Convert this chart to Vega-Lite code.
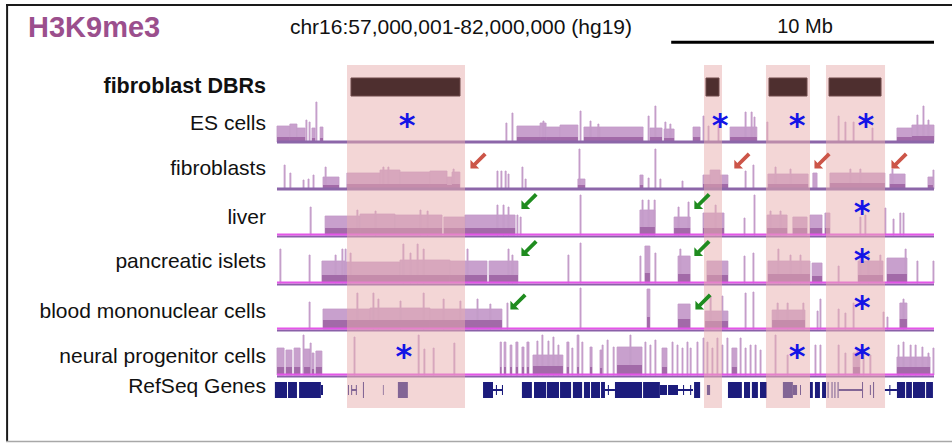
{
"$schema":"https://vega.github.io/schema/vega-lite/v6.json",
"padding":0,"spacing":0,"bounds":"flush","background":"white",
"data":{"values":[{}]},
"config":{"view":{"stroke":null}},
"datasets":{
"dbr":[{"s":59.664,"e":64.154},{"s":73.248,"e":73.933},{"s":75.607,"e":77.282},{"s":77.89,"e":80.136}],
"bars":[{"s":59.816,"e":63.964},{"s":73.324,"e":73.819},{"s":75.721,"e":77.168},{"s":78.005,"e":79.984}],
"ann":[{"t":"es","k":"star","x":61.95},{"t":"es","k":"star","x":73.86},{"t":"es","k":"star","x":76.79},{"t":"es","k":"star","x":79.41},
{"t":"fb","k":"red","x":64.65},{"t":"fb","k":"red","x":74.69},{"t":"fb","k":"red","x":77.74},{"t":"fb","k":"red","x":80.67},
{"t":"lv","k":"green","x":66.59},{"t":"lv","k":"green","x":73.17},{"t":"lv","k":"star","x":79.26},
{"t":"pi","k":"green","x":66.59},{"t":"pi","k":"green","x":73.17},{"t":"pi","k":"star","x":79.26},
{"t":"bm","k":"green","x":66.17},{"t":"bm","k":"green","x":73.21},{"t":"bm","k":"star","x":79.26},
{"t":"np","k":"star","x":61.83},{"t":"np","k":"star","x":76.79},{"t":"np","k":"star","x":79.26}],
"genes":[{"s":56.92,"e":57.38,"k":"x"},{"s":57.42,"e":57.76,"k":"x"},{"s":57.84,"e":58.67,"k":"x"},{"s":58.67,"e":58.75,"k":"s"},{"s":59.70,"e":59.74,"k":"s"},{"s":59.82,"e":59.86,"k":"s"},{"s":59.84,"e":60.04,"k":"l"},{"s":60.00,"e":60.04,"k":"s"},{"s":60.27,"e":60.31,"k":"x"},{"s":61.03,"e":61.06,"k":"s"},{"s":61.60,"e":61.98,"k":"x"},{"s":64.84,"e":65.22,"k":"x"},{"s":65.22,"e":65.60,"k":"l"},{"s":65.33,"e":65.37,"k":"s"},{"s":65.56,"e":65.60,"k":"s"},{"s":66.32,"e":66.70,"k":"x"},{"s":66.78,"e":67.24,"k":"x"},{"s":67.27,"e":67.73,"k":"x"},{"s":67.77,"e":68.19,"k":"x"},{"s":68.26,"e":68.61,"k":"x"},{"s":68.68,"e":68.91,"k":"x"},{"s":68.95,"e":69.29,"k":"x"},{"s":69.33,"e":69.48,"k":"x"},{"s":69.48,"e":69.86,"k":"l"},{"s":69.59,"e":69.63,"k":"s"},{"s":69.86,"e":70.89,"k":"x"},{"s":70.93,"e":71.57,"k":"x"},{"s":71.57,"e":71.84,"k":"s"},{"s":71.88,"e":72.26,"k":"s"},{"s":72.26,"e":72.83,"k":"l"},{"s":72.45,"e":72.49,"k":"s"},{"s":72.72,"e":72.76,"k":"s"},{"s":72.87,"e":73.10,"k":"x"},{"s":73.36,"e":73.48,"k":"s"},{"s":74.16,"e":74.69,"k":"x"},{"s":74.77,"e":75.00,"k":"x"},{"s":75.07,"e":75.30,"k":"x"},{"s":75.38,"e":75.64,"k":"x"},{"s":76.25,"e":76.63,"k":"x"},{"s":76.63,"e":76.79,"k":"s"},{"s":76.90,"e":76.94,"k":"s"},{"s":77.28,"e":77.39,"k":"x"},{"s":77.47,"e":77.66,"k":"x"},{"s":77.74,"e":77.89,"k":"x"},{"s":77.95,"e":77.99,"k":"x"},{"s":78.10,"e":78.14,"k":"x"},{"s":78.21,"e":78.25,"k":"x"},{"s":78.33,"e":78.37,"k":"x"},{"s":78.37,"e":79.30,"k":"l"},{"s":79.26,"e":79.30,"k":"x"},{"s":79.56,"e":79.60,"k":"s"},{"s":79.68,"e":79.72,"k":"x"},{"s":80.13,"e":80.59,"k":"l"},{"s":80.30,"e":80.34,"k":"s"},{"s":80.59,"e":80.90,"k":"x"},{"s":80.94,"e":81.16,"k":"x"},{"s":81.20,"e":81.66,"k":"x"},{"s":81.70,"e":81.96,"k":"x"}],
"sig":[
{"t":"es","s":57.00,"e":57.49,"v":16,"d":5},{"t":"es","s":57.49,"e":57.76,"v":18,"d":5},{"t":"es","s":57.76,"e":58.07,"v":14,"d":5},{"t":"es","s":58.10,"e":58.14,"v":22},{"t":"es","s":58.22,"e":58.26,"v":20},{"t":"es","s":58.33,"e":58.45,"v":14,"d":4},{"t":"es","s":58.48,"e":58.52,"v":40},{"t":"es","s":58.64,"e":58.75,"v":15,"d":4},{"t":"es","s":65.71,"e":65.75,"v":19},{"t":"es","s":65.94,"e":65.98,"v":29},{"t":"es","s":66.13,"e":67.01,"v":16,"d":5},{"t":"es","s":67.01,"e":67.24,"v":19,"d":5},{"t":"es","s":67.12,"e":67.16,"v":21},{"t":"es","s":67.24,"e":67.77,"v":15,"d":5},{"t":"es","s":67.77,"e":68.45,"v":17,"d":5},{"t":"es","s":68.53,"e":68.57,"v":31},{"t":"es","s":68.68,"e":69.29,"v":15,"d":5},{"t":"es","s":68.91,"e":68.95,"v":21},{"t":"es","s":69.21,"e":69.25,"v":18},{"t":"es","s":69.29,"e":70.93,"v":15,"d":5},{"t":"es","s":71.12,"e":71.16,"v":26},{"t":"es","s":71.19,"e":71.65,"v":14,"d":5},{"t":"es","s":71.38,"e":71.42,"v":36},{"t":"es","s":71.73,"e":72.11,"v":13,"d":4},{"t":"es","s":71.76,"e":71.80,"v":20},{"t":"es","s":71.95,"e":71.99,"v":18},{"t":"es","s":72.83,"e":73.10,"v":15,"d":5},{"t":"es","s":73.21,"e":73.25,"v":26},{"t":"es","s":73.40,"e":73.44,"v":16},{"t":"es","s":73.78,"e":73.82,"v":17},{"t":"es","s":74.24,"e":75.26,"v":15,"d":5},{"t":"es","s":74.81,"e":74.85,"v":30},{"t":"es","s":75.04,"e":75.08,"v":30},{"t":"es","s":75.15,"e":75.19,"v":25},{"t":"es","s":75.64,"e":75.68,"v":20},{"t":"es","s":78.35,"e":78.39,"v":26},{"t":"es","s":78.61,"e":78.65,"v":20},{"t":"es","s":78.92,"e":78.96,"v":20},{"t":"es","s":79.64,"e":79.68,"v":14},{"t":"es","s":80.59,"e":81.16,"v":14,"d":5},{"t":"es","s":81.16,"e":82.00,"v":17,"d":6},{"t":"es","s":81.35,"e":81.39,"v":27},{"t":"es","s":81.58,"e":81.62,"v":36},{"t":"es","s":81.77,"e":81.81,"v":22},
{"t":"fb","s":57.27,"e":57.31,"v":24},{"t":"fb","s":57.49,"e":57.53,"v":16},{"t":"fb","s":57.99,"e":58.03,"v":9},{"t":"fb","s":58.18,"e":58.22,"v":10},{"t":"fb","s":58.37,"e":58.41,"v":14},{"t":"fb","s":58.75,"e":59.36,"v":12,"d":4},{"t":"fb","s":58.83,"e":58.87,"v":22},{"t":"fb","s":59.66,"e":60.92,"v":16,"d":5},{"t":"fb","s":60.92,"e":61.68,"v":19,"d":5},{"t":"fb","s":61.68,"e":62.82,"v":17,"d":5},{"t":"fb","s":62.82,"e":63.47,"v":18,"d":5},{"t":"fb","s":63.47,"e":63.66,"v":12,"d":4},{"t":"fb","s":63.66,"e":63.96,"v":17,"d":5},{"t":"fb","s":61.03,"e":61.07,"v":22},{"t":"fb","s":61.22,"e":61.26,"v":22},{"t":"fb","s":63.70,"e":63.74,"v":20},{"t":"fb","s":65.37,"e":65.41,"v":18},{"t":"fb","s":65.52,"e":65.56,"v":18},{"t":"fb","s":65.68,"e":65.72,"v":18},{"t":"fb","s":65.79,"e":65.83,"v":15},{"t":"fb","s":66.32,"e":66.36,"v":22},{"t":"fb","s":66.44,"e":66.48,"v":10},{"t":"fb","s":68.45,"e":68.72,"v":10,"d":4},{"t":"fb","s":68.49,"e":68.53,"v":40},{"t":"fb","s":70.81,"e":70.93,"v":14,"d":4},{"t":"fb","s":71.12,"e":71.16,"v":11},{"t":"fb","s":71.38,"e":71.42,"v":40},{"t":"fb","s":71.57,"e":71.61,"v":10},{"t":"fb","s":72.41,"e":72.45,"v":8},{"t":"fb","s":73.21,"e":74.16,"v":14,"d":5},{"t":"fb","s":73.48,"e":73.86,"v":19,"d":5},{"t":"fb","s":74.81,"e":74.85,"v":18},{"t":"fb","s":75.11,"e":75.15,"v":24},{"t":"fb","s":75.68,"e":77.21,"v":15,"d":5},{"t":"fb","s":75.95,"e":75.99,"v":22},{"t":"fb","s":76.52,"e":76.56,"v":20},{"t":"fb","s":77.39,"e":77.55,"v":16},{"t":"fb","s":78.04,"e":80.13,"v":16,"d":6},{"t":"fb","s":78.80,"e":78.84,"v":20},{"t":"fb","s":79.18,"e":79.22,"v":20},{"t":"fb","s":80.32,"e":80.90,"v":15,"d":5},{"t":"fb","s":80.40,"e":80.44,"v":20},{"t":"fb","s":81.77,"e":81.96,"v":12,"d":4},{"t":"fb","s":81.96,"e":82.00,"v":19},
{"t":"lv","s":58.26,"e":58.30,"v":28},{"t":"lv","s":58.83,"e":60.16,"v":19,"d":7},{"t":"lv","s":60.16,"e":61.49,"v":21,"d":7},{"t":"lv","s":61.49,"e":63.28,"v":20,"d":7},{"t":"lv","s":60.04,"e":60.08,"v":25},{"t":"lv","s":60.73,"e":60.77,"v":24},{"t":"lv","s":62.44,"e":62.48,"v":25},{"t":"lv","s":62.71,"e":62.75,"v":24},{"t":"lv","s":63.35,"e":64.15,"v":18,"d":7},{"t":"lv","s":64.15,"e":66.06,"v":20,"d":7},{"t":"lv","s":65.37,"e":65.41,"v":30},{"t":"lv","s":65.60,"e":65.64,"v":30},{"t":"lv","s":65.79,"e":65.83,"v":28},{"t":"lv","s":66.13,"e":66.17,"v":20},{"t":"lv","s":66.25,"e":66.29,"v":18},{"t":"lv","s":68.53,"e":68.57,"v":40},{"t":"lv","s":70.81,"e":71.38,"v":25,"d":8},{"t":"lv","s":70.89,"e":70.93,"v":35},{"t":"lv","s":71.12,"e":71.16,"v":35},{"t":"lv","s":71.35,"e":71.39,"v":35},{"t":"lv","s":72.11,"e":72.72,"v":18,"d":7},{"t":"lv","s":72.26,"e":72.30,"v":28},{"t":"lv","s":72.64,"e":72.68,"v":33},{"t":"lv","s":73.21,"e":74.01,"v":22,"d":7},{"t":"lv","s":73.67,"e":73.71,"v":30},{"t":"lv","s":74.77,"e":74.81,"v":17},{"t":"lv","s":75.15,"e":75.19,"v":40},{"t":"lv","s":75.65,"e":76.41,"v":20,"d":7},{"t":"lv","s":75.76,"e":75.80,"v":24},{"t":"lv","s":76.14,"e":76.18,"v":24},{"t":"lv","s":76.63,"e":77.17,"v":18,"d":7},{"t":"lv","s":77.28,"e":77.74,"v":20,"d":7},{"t":"lv","s":77.85,"e":78.04,"v":22,"d":7},{"t":"lv","s":79.18,"e":79.22,"v":18},{"t":"lv","s":79.37,"e":79.41,"v":20},{"t":"lv","s":80.13,"e":80.17,"v":27},{"t":"lv","s":80.44,"e":80.48,"v":16},{"t":"lv","s":80.70,"e":80.74,"v":22},{"t":"lv","s":80.82,"e":80.86,"v":22},
{"t":"pi","s":57.11,"e":57.15,"v":34},{"t":"pi","s":58.22,"e":58.26,"v":28},{"t":"pi","s":58.71,"e":59.59,"v":22,"d":8},{"t":"pi","s":59.59,"e":61.68,"v":21,"d":8},{"t":"pi","s":61.68,"e":63.58,"v":23,"d":8},{"t":"pi","s":63.58,"e":64.99,"v":22,"d":8},{"t":"pi","s":65.07,"e":66.17,"v":22,"d":8},{"t":"pi","s":59.21,"e":59.25,"v":28},{"t":"pi","s":59.47,"e":59.51,"v":34},{"t":"pi","s":59.59,"e":59.63,"v":34},{"t":"pi","s":59.78,"e":59.82,"v":30},{"t":"pi","s":61.79,"e":61.83,"v":39},{"t":"pi","s":62.06,"e":62.10,"v":30},{"t":"pi","s":62.33,"e":62.37,"v":39},{"t":"pi","s":62.56,"e":62.60,"v":34},{"t":"pi","s":64.23,"e":64.27,"v":34},{"t":"pi","s":65.79,"e":65.83,"v":34},{"t":"pi","s":65.94,"e":65.98,"v":28},{"t":"pi","s":68.07,"e":68.11,"v":28},{"t":"pi","s":68.53,"e":68.57,"v":40},{"t":"pi","s":70.81,"e":70.85,"v":27},{"t":"pi","s":71.00,"e":71.19,"v":37,"d":10},{"t":"pi","s":71.38,"e":71.42,"v":30},{"t":"pi","s":72.26,"e":72.72,"v":27,"d":9},{"t":"pi","s":72.33,"e":72.37,"v":34},{"t":"pi","s":73.36,"e":74.16,"v":22,"d":8},{"t":"pi","s":74.77,"e":74.81,"v":27},{"t":"pi","s":75.11,"e":75.15,"v":30},{"t":"pi","s":75.68,"e":77.28,"v":22,"d":9},{"t":"pi","s":76.06,"e":76.10,"v":34},{"t":"pi","s":76.52,"e":76.56,"v":28},{"t":"pi","s":76.90,"e":76.94,"v":28},{"t":"pi","s":77.36,"e":77.74,"v":20,"d":7},{"t":"pi","s":78.35,"e":78.39,"v":17},{"t":"pi","s":79.11,"e":80.06,"v":22,"d":8},{"t":"pi","s":79.18,"e":79.22,"v":28},{"t":"pi","s":79.49,"e":79.53,"v":28},{"t":"pi","s":79.94,"e":79.98,"v":28},{"t":"pi","s":80.21,"e":80.97,"v":25,"d":9},{"t":"pi","s":80.90,"e":80.94,"v":34},{"t":"pi","s":81.35,"e":81.39,"v":22},{"t":"pi","s":81.96,"e":82.00,"v":22},
{"t":"bm","s":58.22,"e":58.26,"v":27},{"t":"bm","s":58.75,"e":60.54,"v":20,"d":9},{"t":"bm","s":60.54,"e":62.82,"v":21,"d":9},{"t":"bm","s":62.82,"e":65.56,"v":20,"d":9},{"t":"bm","s":60.04,"e":60.08,"v":36},{"t":"bm","s":60.65,"e":60.69,"v":36},{"t":"bm","s":60.84,"e":60.88,"v":30},{"t":"bm","s":61.68,"e":61.72,"v":28},{"t":"bm","s":62.56,"e":62.60,"v":36},{"t":"bm","s":63.32,"e":63.36,"v":30},{"t":"bm","s":63.96,"e":64.00,"v":28},{"t":"bm","s":64.61,"e":64.65,"v":30},{"t":"bm","s":65.10,"e":65.14,"v":25},{"t":"bm","s":65.75,"e":65.79,"v":26},{"t":"bm","s":68.53,"e":68.57,"v":41},{"t":"bm","s":71.08,"e":71.19,"v":40,"d":12},{"t":"bm","s":72.26,"e":72.72,"v":25,"d":10},{"t":"bm","s":73.29,"e":74.16,"v":18,"d":8},{"t":"bm","s":73.48,"e":73.52,"v":33},{"t":"bm","s":73.93,"e":73.97,"v":33},{"t":"bm","s":74.81,"e":74.85,"v":36},{"t":"bm","s":75.11,"e":75.15,"v":37},{"t":"bm","s":75.84,"e":77.09,"v":19,"d":9},{"t":"bm","s":76.03,"e":76.07,"v":26},{"t":"bm","s":76.41,"e":76.45,"v":26},{"t":"bm","s":77.01,"e":77.05,"v":26},{"t":"bm","s":77.55,"e":77.59,"v":18},{"t":"bm","s":77.66,"e":77.70,"v":30},{"t":"bm","s":78.35,"e":78.39,"v":20},{"t":"bm","s":78.61,"e":78.65,"v":16},{"t":"bm","s":78.92,"e":78.96,"v":26},{"t":"bm","s":80.06,"e":80.10,"v":17},{"t":"bm","s":80.21,"e":80.25,"v":12},{"t":"bm","s":80.70,"e":80.97,"v":26,"d":10},{"t":"bm","s":80.82,"e":80.86,"v":30},
{"t":"np","s":57.00,"e":57.27,"v":27,"d":8},{"t":"np","s":57.34,"e":57.57,"v":25,"d":8},{"t":"np","s":57.65,"e":57.88,"v":27,"d":8},{"t":"np","s":57.99,"e":58.03,"v":40},{"t":"np","s":58.03,"e":58.26,"v":26,"d":8},{"t":"np","s":58.26,"e":58.30,"v":32},{"t":"np","s":58.33,"e":58.41,"v":22,"d":6},{"t":"np","s":58.48,"e":58.71,"v":24,"d":8},{"t":"np","s":59.93,"e":59.97,"v":38},{"t":"np","s":62.37,"e":62.41,"v":40},{"t":"np","s":62.59,"e":62.63,"v":26},{"t":"np","s":62.94,"e":62.98,"v":27},{"t":"np","s":63.73,"e":63.77,"v":32},{"t":"np","s":65.49,"e":65.54,"v":33,"d":8},{"t":"np","s":65.64,"e":65.71,"v":33,"d":8},{"t":"np","s":65.87,"e":65.94,"v":30,"d":8},{"t":"np","s":66.09,"e":66.17,"v":33,"d":8},{"t":"np","s":66.32,"e":66.40,"v":28,"d":8},{"t":"np","s":66.51,"e":66.59,"v":33,"d":8},{"t":"np","s":66.74,"e":67.88,"v":20,"d":9},{"t":"np","s":66.89,"e":66.93,"v":34},{"t":"np","s":67.08,"e":67.12,"v":40},{"t":"np","s":67.31,"e":67.35,"v":34},{"t":"np","s":67.50,"e":67.54,"v":38},{"t":"np","s":67.69,"e":67.73,"v":30},{"t":"np","s":68.03,"e":68.11,"v":33,"d":8},{"t":"np","s":68.22,"e":68.26,"v":27},{"t":"np","s":68.42,"e":68.49,"v":40,"d":8},{"t":"np","s":68.60,"e":68.64,"v":33},{"t":"np","s":68.91,"e":68.99,"v":28,"d":8},{"t":"np","s":69.29,"e":69.37,"v":25,"d":7},{"t":"np","s":69.37,"e":69.41,"v":30},{"t":"np","s":69.56,"e":69.60,"v":35},{"t":"np","s":69.79,"e":69.83,"v":28},{"t":"np","s":69.94,"e":70.89,"v":28,"d":10},{"t":"np","s":70.43,"e":70.47,"v":40},{"t":"np","s":71.00,"e":71.04,"v":33},{"t":"np","s":71.19,"e":71.23,"v":30},{"t":"np","s":71.38,"e":71.42,"v":35},{"t":"np","s":71.65,"e":71.84,"v":27,"d":8},{"t":"np","s":72.03,"e":72.07,"v":33},{"t":"np","s":72.22,"e":72.26,"v":30},{"t":"np","s":72.41,"e":72.45,"v":27},{"t":"np","s":72.60,"e":72.64,"v":33},{"t":"np","s":72.72,"e":72.76,"v":27},{"t":"np","s":72.98,"e":73.02,"v":33},{"t":"np","s":73.21,"e":73.25,"v":37},{"t":"np","s":73.36,"e":73.40,"v":33},{"t":"np","s":73.55,"e":73.59,"v":27},{"t":"np","s":73.74,"e":73.78,"v":37},{"t":"np","s":73.93,"e":73.97,"v":30},{"t":"np","s":74.12,"e":74.16,"v":37},{"t":"np","s":74.31,"e":74.50,"v":27,"d":8},{"t":"np","s":74.62,"e":74.66,"v":37},{"t":"np","s":74.81,"e":74.85,"v":27},{"t":"np","s":75.00,"e":75.04,"v":30},{"t":"np","s":75.19,"e":75.23,"v":30},{"t":"np","s":75.38,"e":75.42,"v":25},{"t":"np","s":75.95,"e":75.99,"v":40},{"t":"np","s":76.41,"e":76.45,"v":20},{"t":"np","s":77.47,"e":77.51,"v":30},{"t":"np","s":77.66,"e":77.70,"v":30},{"t":"np","s":78.35,"e":78.39,"v":30},{"t":"np","s":78.61,"e":78.65,"v":22},{"t":"np","s":78.92,"e":79.18,"v":22,"d":8},{"t":"np","s":79.07,"e":79.11,"v":27},{"t":"np","s":79.30,"e":79.34,"v":25},{"t":"np","s":79.56,"e":79.60,"v":20},{"t":"np","s":80.59,"e":81.85,"v":18,"d":8},{"t":"np","s":80.63,"e":80.67,"v":30},{"t":"np","s":80.82,"e":80.86,"v":33},{"t":"np","s":81.09,"e":81.13,"v":30},{"t":"np","s":81.28,"e":81.32,"v":30},{"t":"np","s":81.54,"e":81.58,"v":28},{"t":"np","s":81.77,"e":81.81,"v":22},{"t":"np","s":81.96,"e":82.00,"v":27}
]},
"vconcat":[
{"height":65,"width":952,"layer":[
 {"mark":{"type":"rule","color":"#1a1a1a","strokeWidth":2},"encoding":{"x":{"datum":46.69,"type":"quantitative","scale":{"domain":[46.46,82.685],"nice":false,"zero":false},"axis":null},"x2":{"datum":82.685},"y":{"datum":5,"type":"quantitative","scale":{"domain":[0,65],"reverse":true,"nice":false,"zero":false},"axis":null}}},
 {"mark":{"type":"rule","color":"#1a1a1a","strokeWidth":2},"encoding":{"x":{"datum":46.73,"type":"quantitative","axis":null},"y":{"datum":4,"type":"quantitative","axis":null},"y2":{"datum":65}}},
 {"mark":{"type":"text","align":"left","baseline":"middle","font":"Liberation Sans","fontSize":29,"fontWeight":"bold","color":"#9b4f8d"},"encoding":{"x":{"datum":47.525,"type":"quantitative","axis":null},"y":{"datum":28.3,"type":"quantitative","axis":null},"text":{"value":"H3K9me3"}}},
 {"mark":{"type":"text","align":"center","baseline":"middle","font":"Liberation Sans","fontSize":21,"color":"#111111"},"encoding":{"x":{"datum":64.0,"type":"quantitative","axis":null},"y":{"datum":27.7,"type":"quantitative","axis":null},"text":{"value":"chr16:57,000,001-82,000,000 (hg19)"}}},
 {"mark":{"type":"text","align":"center","baseline":"middle","font":"Liberation Sans","fontSize":20,"color":"#111111"},"encoding":{"x":{"datum":77.09,"type":"quantitative","axis":null},"y":{"datum":27,"type":"quantitative","axis":null},"text":{"value":"10 Mb"}}},
 {"mark":{"type":"rule","color":"#000000","strokeWidth":3},"encoding":{"x":{"datum":72,"type":"quantitative","axis":null},"x2":{"datum":82},"y":{"datum":42.3,"type":"quantitative","axis":null}}}
]},
{"height":35,"width":952,"layer":[
 {"data":{"name":"dbr"},"mark":{"type":"rect","color":"#e8aeae","opacity":0.5},"encoding":{"x":{"field":"s","type":"quantitative","scale":{"domain":[46.46,82.685],"nice":false,"zero":false},"axis":null},"x2":{"field":"e"}}},
 {"data":{"name":"bars"},"mark":{"type":"rect","color":"#4e2f2f","stroke":"#6e4b4b","strokeWidth":1},"encoding":{"x":{"field":"s","type":"quantitative","axis":null},"x2":{"field":"e"},"y":{"datum":13,"type":"quantitative","scale":{"domain":[0,35],"reverse":true,"nice":false,"zero":false},"axis":null},"y2":{"datum":31}}},
 {"mark":{"type":"rule","color":"#1a1a1a","strokeWidth":2},"encoding":{"x":{"datum":46.73,"type":"quantitative","axis":null}}},
 {"mark":{"type":"text","align":"right","baseline":"middle","font":"Liberation Sans","fontSize":21.5,"fontWeight":"bold","color":"#111111"},"encoding":{"x":{"datum":56.58,"type":"quantitative","axis":null},"y":{"datum":21.7,"type":"quantitative","axis":null},"text":{"value":"fibroblast DBRs"}}}
]},
{"height":46,"width":952,"layer":[
 {"data":{"name":"sig"},"transform":[{"filter":"datum.t==='es'"}],"mark":{"type":"rect","color":"#c8a0cd","stroke":"#c39ac8","strokeWidth":0.8},"encoding":{"x":{"field":"s","type":"quantitative","scale":{"domain":[46.46,82.685],"nice":false,"zero":false},"axis":null},"x2":{"field":"e"},"y":{"field":"v","type":"quantitative","scale":{"domain":[-4,42],"nice":false,"zero":false},"axis":null},"y2":{"datum":0}}},
 {"data":{"name":"sig"},"transform":[{"filter":"datum.t==='es' && isValid(datum.d)"}],"mark":{"type":"rect","color":"#a26aa8"},"encoding":{"x":{"field":"s","type":"quantitative","axis":null},"x2":{"field":"e"},"y":{"field":"d","type":"quantitative","axis":null},"y2":{"datum":0}}},
 {"mark":{"type":"rule","color":"#8c66a9","strokeWidth":3},"encoding":{"x":{"datum":57,"type":"quantitative","axis":null},"x2":{"datum":82},"y":{"datum":0,"type":"quantitative","axis":null}}},
 {"data":{"name":"dbr"},"mark":{"type":"rect","color":"#e8aeae","opacity":0.5},"encoding":{"x":{"field":"s","type":"quantitative","axis":null},"x2":{"field":"e"}}},
 {"mark":{"type":"rule","color":"#1a1a1a","strokeWidth":2},"encoding":{"x":{"datum":46.73,"type":"quantitative","axis":null}}},
 {"mark":{"type":"text","align":"right","baseline":"middle","font":"Liberation Sans","fontSize":21,"color":"#111111"},"encoding":{"x":{"datum":56.58,"type":"quantitative","axis":null},"y":{"datum":18.3,"type":"quantitative","axis":null},"text":{"value":"ES cells"}}},
 {"data":{"name":"ann"},"transform":[{"filter":"datum.t==='es' && datum.k==='star'"}],"mark":{"type":"text","text":"*","font":"DejaVu Sans","fontSize":32,"fontWeight":"bold","color":"#1414e6","align":"center","baseline":"alphabetic","dy":17},"encoding":{"x":{"field":"x","type":"quantitative","axis":null},"y":{"datum":23,"type":"quantitative","axis":null}}}
]},
{"height":47,"width":952,"layer":[
 {"data":{"name":"sig"},"transform":[{"filter":"datum.t==='fb'"}],"mark":{"type":"rect","color":"#c8a0cd","stroke":"#c39ac8","strokeWidth":0.8},"encoding":{"x":{"field":"s","type":"quantitative","scale":{"domain":[46.46,82.685],"nice":false,"zero":false},"axis":null},"x2":{"field":"e"},"y":{"field":"v","type":"quantitative","scale":{"domain":[-4,43],"nice":false,"zero":false},"axis":null},"y2":{"datum":0}}},
 {"data":{"name":"sig"},"transform":[{"filter":"datum.t==='fb' && isValid(datum.d)"}],"mark":{"type":"rect","color":"#a26aa8"},"encoding":{"x":{"field":"s","type":"quantitative","axis":null},"x2":{"field":"e"},"y":{"field":"d","type":"quantitative","axis":null},"y2":{"datum":0}}},
 {"mark":{"type":"rule","color":"#8c66a9","strokeWidth":3},"encoding":{"x":{"datum":57,"type":"quantitative","axis":null},"x2":{"datum":82},"y":{"datum":0,"type":"quantitative","axis":null}}},
 {"data":{"name":"dbr"},"mark":{"type":"rect","color":"#e8aeae","opacity":0.5},"encoding":{"x":{"field":"s","type":"quantitative","axis":null},"x2":{"field":"e"}}},
 {"mark":{"type":"rule","color":"#1a1a1a","strokeWidth":2},"encoding":{"x":{"datum":46.73,"type":"quantitative","axis":null}}},
 {"mark":{"type":"text","align":"right","baseline":"middle","font":"Liberation Sans","fontSize":21,"color":"#111111"},"encoding":{"x":{"datum":56.58,"type":"quantitative","axis":null},"y":{"datum":20.3,"type":"quantitative","axis":null},"text":{"value":"fibroblasts"}}},
 {"data":{"name":"ann"},"transform":[{"filter":"datum.t==='fb' && datum.k!=='star'"}],"mark":{"type":"point","shape":"M-1,1L-1,-0.15L-0.6,0.25L0.77,-1.13L1.13,-0.77L-0.25,0.6L0.15,1Z","filled":true,"size":230,"color":"#cc5548","opacity":1},"encoding":{"x":{"field":"x","type":"quantitative","axis":null},"y":{"datum":28,"type":"quantitative","axis":null}}}
]},
{"height":46,"width":952,"layer":[
 {"data":{"name":"sig"},"transform":[{"filter":"datum.t==='lv'"}],"mark":{"type":"rect","color":"#c8a0cd","stroke":"#c39ac8","strokeWidth":0.8},"encoding":{"x":{"field":"s","type":"quantitative","scale":{"domain":[46.46,82.685],"nice":false,"zero":false},"axis":null},"x2":{"field":"e"},"y":{"field":"v","type":"quantitative","scale":{"domain":[-4,42],"nice":false,"zero":false},"axis":null},"y2":{"datum":0}}},
 {"data":{"name":"sig"},"transform":[{"filter":"datum.t==='lv' && isValid(datum.d)"}],"mark":{"type":"rect","color":"#a26aa8"},"encoding":{"x":{"field":"s","type":"quantitative","axis":null},"x2":{"field":"e"},"y":{"field":"d","type":"quantitative","axis":null},"y2":{"datum":0}}},
 {"mark":{"type":"rule","color":"#8a60a8","strokeWidth":2},"encoding":{"x":{"datum":57,"type":"quantitative","axis":null},"x2":{"datum":82},"y":{"datum":-1.5,"type":"quantitative","axis":null}}},
 {"mark":{"type":"rule","color":"#e455e8","strokeWidth":2},"encoding":{"x":{"datum":57,"type":"quantitative","axis":null},"x2":{"datum":82},"y":{"datum":0.5,"type":"quantitative","axis":null}}},
 {"data":{"name":"dbr"},"mark":{"type":"rect","color":"#e8aeae","opacity":0.5},"encoding":{"x":{"field":"s","type":"quantitative","axis":null},"x2":{"field":"e"}}},
 {"mark":{"type":"rule","color":"#1a1a1a","strokeWidth":2},"encoding":{"x":{"datum":46.73,"type":"quantitative","axis":null}}},
 {"mark":{"type":"text","align":"right","baseline":"middle","font":"Liberation Sans","fontSize":21,"color":"#111111"},"encoding":{"x":{"datum":56.58,"type":"quantitative","axis":null},"y":{"datum":17.3,"type":"quantitative","axis":null},"text":{"value":"liver"}}},
 {"data":{"name":"ann"},"transform":[{"filter":"datum.t==='lv' && datum.k==='star'"}],"mark":{"type":"text","text":"*","font":"DejaVu Sans","fontSize":32,"fontWeight":"bold","color":"#1414e6","align":"center","baseline":"alphabetic","dy":17},"encoding":{"x":{"field":"x","type":"quantitative","axis":null},"y":{"datum":29,"type":"quantitative","axis":null}}},
 {"data":{"name":"ann"},"transform":[{"filter":"datum.t==='lv' && datum.k!=='star'"}],"mark":{"type":"point","shape":"M-1,1L-1,-0.15L-0.6,0.25L0.77,-1.13L1.13,-0.77L-0.25,0.6L0.15,1Z","filled":true,"size":230,"color":"#1f8c1f","opacity":1},"encoding":{"x":{"field":"x","type":"quantitative","axis":null},"y":{"datum":33.5,"type":"quantitative","axis":null}}}
]},
{"height":48,"width":952,"layer":[
 {"data":{"name":"sig"},"transform":[{"filter":"datum.t==='pi'"}],"mark":{"type":"rect","color":"#c8a0cd","stroke":"#c39ac8","strokeWidth":0.8},"encoding":{"x":{"field":"s","type":"quantitative","scale":{"domain":[46.46,82.685],"nice":false,"zero":false},"axis":null},"x2":{"field":"e"},"y":{"field":"v","type":"quantitative","scale":{"domain":[-4,44],"nice":false,"zero":false},"axis":null},"y2":{"datum":0}}},
 {"data":{"name":"sig"},"transform":[{"filter":"datum.t==='pi' && isValid(datum.d)"}],"mark":{"type":"rect","color":"#a26aa8"},"encoding":{"x":{"field":"s","type":"quantitative","axis":null},"x2":{"field":"e"},"y":{"field":"d","type":"quantitative","axis":null},"y2":{"datum":0}}},
 {"mark":{"type":"rule","color":"#8a60a8","strokeWidth":2},"encoding":{"x":{"datum":57,"type":"quantitative","axis":null},"x2":{"datum":82},"y":{"datum":-1.5,"type":"quantitative","axis":null}}},
 {"mark":{"type":"rule","color":"#e455e8","strokeWidth":2},"encoding":{"x":{"datum":57,"type":"quantitative","axis":null},"x2":{"datum":82},"y":{"datum":0.5,"type":"quantitative","axis":null}}},
 {"data":{"name":"dbr"},"mark":{"type":"rect","color":"#e8aeae","opacity":0.5},"encoding":{"x":{"field":"s","type":"quantitative","axis":null},"x2":{"field":"e"}}},
 {"mark":{"type":"rule","color":"#1a1a1a","strokeWidth":2},"encoding":{"x":{"datum":46.73,"type":"quantitative","axis":null}}},
 {"mark":{"type":"text","align":"right","baseline":"middle","font":"Liberation Sans","fontSize":21,"color":"#111111"},"encoding":{"x":{"datum":56.58,"type":"quantitative","axis":null},"y":{"datum":21.3,"type":"quantitative","axis":null},"text":{"value":"pancreatic islets"}}},
 {"data":{"name":"ann"},"transform":[{"filter":"datum.t==='pi' && datum.k==='star'"}],"mark":{"type":"text","text":"*","font":"DejaVu Sans","fontSize":32,"fontWeight":"bold","color":"#1414e6","align":"center","baseline":"alphabetic","dy":17},"encoding":{"x":{"field":"x","type":"quantitative","axis":null},"y":{"datum":29,"type":"quantitative","axis":null}}},
 {"data":{"name":"ann"},"transform":[{"filter":"datum.t==='pi' && datum.k!=='star'"}],"mark":{"type":"point","shape":"M-1,1L-1,-0.15L-0.6,0.25L0.77,-1.13L1.13,-0.77L-0.25,0.6L0.15,1Z","filled":true,"size":230,"color":"#1f8c1f","opacity":1},"encoding":{"x":{"field":"x","type":"quantitative","axis":null},"y":{"datum":34.5,"type":"quantitative","axis":null}}}
]},
{"height":46,"width":952,"layer":[
 {"data":{"name":"sig"},"transform":[{"filter":"datum.t==='bm'"}],"mark":{"type":"rect","color":"#c8a0cd","stroke":"#c39ac8","strokeWidth":0.8},"encoding":{"x":{"field":"s","type":"quantitative","scale":{"domain":[46.46,82.685],"nice":false,"zero":false},"axis":null},"x2":{"field":"e"},"y":{"field":"v","type":"quantitative","scale":{"domain":[-4,42],"nice":false,"zero":false},"axis":null},"y2":{"datum":0}}},
 {"data":{"name":"sig"},"transform":[{"filter":"datum.t==='bm' && isValid(datum.d)"}],"mark":{"type":"rect","color":"#a26aa8"},"encoding":{"x":{"field":"s","type":"quantitative","axis":null},"x2":{"field":"e"},"y":{"field":"d","type":"quantitative","axis":null},"y2":{"datum":0}}},
 {"mark":{"type":"rule","color":"#8a60a8","strokeWidth":2},"encoding":{"x":{"datum":57,"type":"quantitative","axis":null},"x2":{"datum":82},"y":{"datum":-1.5,"type":"quantitative","axis":null}}},
 {"mark":{"type":"rule","color":"#e455e8","strokeWidth":2},"encoding":{"x":{"datum":57,"type":"quantitative","axis":null},"x2":{"datum":82},"y":{"datum":0.5,"type":"quantitative","axis":null}}},
 {"data":{"name":"dbr"},"mark":{"type":"rect","color":"#e8aeae","opacity":0.5},"encoding":{"x":{"field":"s","type":"quantitative","axis":null},"x2":{"field":"e"}}},
 {"mark":{"type":"rule","color":"#1a1a1a","strokeWidth":2},"encoding":{"x":{"datum":46.73,"type":"quantitative","axis":null}}},
 {"mark":{"type":"text","align":"right","baseline":"middle","font":"Liberation Sans","fontSize":21,"color":"#111111"},"encoding":{"x":{"datum":56.58,"type":"quantitative","axis":null},"y":{"datum":17.3,"type":"quantitative","axis":null},"text":{"value":"blood mononuclear cells"}}},
 {"data":{"name":"ann"},"transform":[{"filter":"datum.t==='bm' && datum.k==='star'"}],"mark":{"type":"text","text":"*","font":"DejaVu Sans","fontSize":32,"fontWeight":"bold","color":"#1414e6","align":"center","baseline":"alphabetic","dy":17},"encoding":{"x":{"field":"x","type":"quantitative","axis":null},"y":{"datum":28,"type":"quantitative","axis":null}}},
 {"data":{"name":"ann"},"transform":[{"filter":"datum.t==='bm' && datum.k!=='star'"}],"mark":{"type":"point","shape":"M-1,1L-1,-0.15L-0.6,0.25L0.77,-1.13L1.13,-0.77L-0.25,0.6L0.15,1Z","filled":true,"size":230,"color":"#1f8c1f","opacity":1},"encoding":{"x":{"field":"x","type":"quantitative","axis":null},"y":{"datum":27,"type":"quantitative","axis":null}}}
]},
{"height":46,"width":952,"layer":[
 {"data":{"name":"sig"},"transform":[{"filter":"datum.t==='np'"}],"mark":{"type":"rect","color":"#c8a0cd","stroke":"#c39ac8","strokeWidth":0.8},"encoding":{"x":{"field":"s","type":"quantitative","scale":{"domain":[46.46,82.685],"nice":false,"zero":false},"axis":null},"x2":{"field":"e"},"y":{"field":"v","type":"quantitative","scale":{"domain":[-4,42],"nice":false,"zero":false},"axis":null},"y2":{"datum":0}}},
 {"data":{"name":"sig"},"transform":[{"filter":"datum.t==='np' && isValid(datum.d)"}],"mark":{"type":"rect","color":"#a26aa8"},"encoding":{"x":{"field":"s","type":"quantitative","axis":null},"x2":{"field":"e"},"y":{"field":"d","type":"quantitative","axis":null},"y2":{"datum":0}}},
 {"mark":{"type":"rule","color":"#8a60a8","strokeWidth":2},"encoding":{"x":{"datum":57,"type":"quantitative","axis":null},"x2":{"datum":82},"y":{"datum":-1.5,"type":"quantitative","axis":null}}},
 {"mark":{"type":"rule","color":"#e455e8","strokeWidth":2},"encoding":{"x":{"datum":57,"type":"quantitative","axis":null},"x2":{"datum":82},"y":{"datum":0.5,"type":"quantitative","axis":null}}},
 {"data":{"name":"dbr"},"mark":{"type":"rect","color":"#e8aeae","opacity":0.5},"encoding":{"x":{"field":"s","type":"quantitative","axis":null},"x2":{"field":"e"}}},
 {"mark":{"type":"rule","color":"#1a1a1a","strokeWidth":2},"encoding":{"x":{"datum":46.73,"type":"quantitative","axis":null}}},
 {"mark":{"type":"text","align":"right","baseline":"middle","font":"Liberation Sans","fontSize":21,"color":"#111111"},"encoding":{"x":{"datum":56.58,"type":"quantitative","axis":null},"y":{"datum":18.3,"type":"quantitative","axis":null},"text":{"value":"neural progenitor cells"}}},
 {"data":{"name":"ann"},"transform":[{"filter":"datum.t==='np' && datum.k==='star'"}],"mark":{"type":"text","text":"*","font":"DejaVu Sans","fontSize":32,"fontWeight":"bold","color":"#1414e6","align":"center","baseline":"alphabetic","dy":17},"encoding":{"x":{"field":"x","type":"quantitative","axis":null},"y":{"datum":25,"type":"quantitative","axis":null}}}
]},
{"height":29,"width":952,"layer":[
 {"data":{"name":"genes"},"transform":[{"filter":"datum.k==='l'"}],"mark":{"type":"rule","color":"#1c1c7c","strokeWidth":2},"encoding":{"x":{"field":"s","type":"quantitative","scale":{"domain":[46.46,82.685],"nice":false,"zero":false},"axis":null},"x2":{"field":"e"},"y":{"datum":0,"type":"quantitative","scale":{"domain":[-18,11],"nice":false,"zero":false},"axis":null}}},
 {"data":{"name":"genes"},"transform":[{"filter":"datum.k==='x'"}],"mark":{"type":"rect","color":"#1c1c7c"},"encoding":{"x":{"field":"s","type":"quantitative","axis":null},"x2":{"field":"e"},"y":{"datum":-8,"type":"quantitative","axis":null},"y2":{"datum":8}}},
 {"data":{"name":"genes"},"transform":[{"filter":"datum.k==='s'"}],"mark":{"type":"rect","color":"#1c1c7c"},"encoding":{"x":{"field":"s","type":"quantitative","axis":null},"x2":{"field":"e"},"y":{"datum":-5,"type":"quantitative","axis":null},"y2":{"datum":5}}},
 {"data":{"name":"dbr"},"mark":{"type":"rect","color":"#e8aeae","opacity":0.5},"encoding":{"x":{"field":"s","type":"quantitative","axis":null},"x2":{"field":"e"}}},
 {"mark":{"type":"rule","color":"#1a1a1a","strokeWidth":2},"encoding":{"x":{"datum":46.73,"type":"quantitative","axis":null}}},
 {"mark":{"type":"text","align":"right","baseline":"middle","font":"Liberation Sans","fontSize":21,"color":"#111111"},"encoding":{"x":{"datum":56.58,"type":"quantitative","axis":null},"y":{"datum":2.8,"type":"quantitative","axis":null},"text":{"value":"RefSeq Genes"}}}
]},
{"height":35,"width":952,"layer":[
 {"mark":{"type":"rule","color":"#1a1a1a","strokeWidth":2},"encoding":{"x":{"datum":46.73,"type":"quantitative","scale":{"domain":[46.46,82.685],"nice":false,"zero":false},"axis":null},"y":{"datum":0,"type":"quantitative","scale":{"domain":[0,35],"reverse":true,"nice":false,"zero":false},"axis":null},"y2":{"datum":33.5}}},
 {"mark":{"type":"rule","color":"#a8a8a8","strokeWidth":1.5},"encoding":{"x":{"datum":46.69,"type":"quantitative","axis":null},"x2":{"datum":82.685},"y":{"datum":33.5,"type":"quantitative","axis":null}}}
]}
]
}
